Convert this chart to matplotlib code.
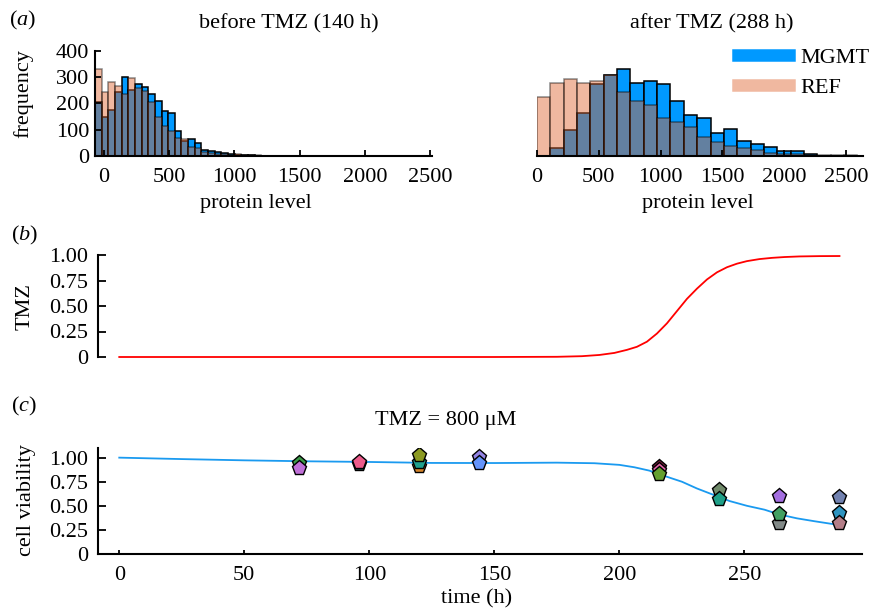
import numpy as np
import matplotlib
matplotlib.use('Agg')
import matplotlib.pyplot as plt
from matplotlib.lines import Line2D

plt.rcParams['font.family'] = ['Liberation Serif', 'DejaVu Serif']
plt.rcParams['mathtext.fontset'] = 'custom'
plt.rcParams['mathtext.rm'] = 'Liberation Serif'
plt.rcParams['mathtext.it'] = 'Liberation Serif:italic'
plt.rcParams['font.size'] = 16

# (a) histograms of protein level, bar heights per bin
before_mgmt = [207, 147, 175, 243, 300, 251, 274, 264, 236, 211, 173, 163, 95,
               57, 65, 48, 23, 18, 15, 10, 8, 5, 4, 2, 1]
before_ref = [330, 245, 281, 267, 236, 296, 260, 248, 204, 150, 116, 97, 70,
              65, 36, 29, 15, 11, 9, 6, 5, 6, 3, 3, 2]
after_mgmt = [0, 32, 98, 165, 273, 307, 330, 279, 284, 276, 210, 155, 145, 89,
              103, 56, 47, 34, 18, 19, 9, 1, 1, 0]
after_ref = [225, 278, 295, 278, 286, 307, 244, 210, 193, 146, 130, 110, 72,
             53, 38, 30, 22, 11, 9, 9, 4, 4, 3, 2]
hist_ticks = [0, 500, 1000, 1500, 2000, 2500]
freq_ticks = [0, 100, 200, 300, 400]

# (b) TMZ input over time
tmz_t = [0, 150, 175, 185, 192, 198, 203, 207, 211, 215, 219, 223, 227, 231,
         235, 239, 243, 247, 251, 256, 261, 266, 272, 280, 288]
tmz_v = [0, 0, 0.002, 0.008, 0.02, 0.04, 0.07, 0.10, 0.15, 0.23, 0.33, 0.45,
         0.57, 0.67, 0.76, 0.83, 0.88, 0.915, 0.94, 0.96, 0.972, 0.98, 0.986,
         0.989, 0.99]

# (c) cell viability, model and measurements
via_t = [0, 25, 50, 75, 100, 125, 150, 175, 190, 200, 206, 212, 218, 225, 231,
         238, 244, 251, 258, 264, 271, 278, 288]
via_v = [1.0, 0.985, 0.972, 0.962, 0.955, 0.945, 0.944, 0.948, 0.942, 0.925,
         0.90, 0.865, 0.81, 0.75, 0.68, 0.61, 0.55, 0.50, 0.46, 0.41, 0.37,
         0.34, 0.30]
obs_t = [72, 72, 96, 96, 120, 120, 120, 144, 144, 216, 216, 216, 240, 240,
         264, 264, 264, 288, 288, 288]
obs_v = [0.945, 0.893, 0.93, 0.955, 0.917, 0.955, 1.03, 1.01, 0.945, 0.90,
         0.875, 0.83, 0.66, 0.573, 0.607, 0.326, 0.417, 0.59, 0.43, 0.32]
obs_c = ['#3c9a48', '#c070d8', '#1f4f4f', '#ec5c8c', '#d4842a', '#1fa08e',
         '#8c9a22', '#9484e4', '#6494fa', '#7a1e3c', '#e464a8', '#64a030',
         '#708a6a', '#1fa088', '#a46ee0', '#828a88', '#42a062', '#7282b0',
         '#2e94c0', '#b47e88']
via_ticks = [0, 0.25, 0.5, 0.75, 1.0]
via_labels = ['0', '0.25', '0.50', '0.75', '1.00']
time_ticks = [0, 50, 100, 150, 200, 250]

W, H = 871, 611
blue = '#0099ff'
ref_col = '#de622c'


def px_axes(fig, x0, y0, x1, y1):
  """Add axes from pixel box (top-left origin)."""
  return fig.add_axes([x0 / W, 1 - y1 / H, (x1 - x0) / W, (y1 - y0) / H])


def px_text(fig, x, y, s, **kw):
  """Place centred text at a pixel position (top-left origin)."""
  fig.text(x / W, 1 - y / H, s, ha='center', va='center', **kw)


def style(ax, left=True, bottom=True):
  for s in ['top', 'right']:
    ax.spines[s].set_visible(False)
  ax.spines['left'].set_visible(left)
  ax.spines['bottom'].set_visible(bottom)
  for s in ['left', 'bottom']:
    ax.spines[s].set_linewidth(1.5)
  ax.tick_params(direction='in', width=1.3, length=4)


def hist_panel(ax, start, width, mgmt, ref):
  edges = start + width * np.arange(len(mgmt))
  ax.bar(edges, mgmt, width=width, align='edge', color=blue,
         edgecolor='black', linewidth=1.1)
  edges = start + width * np.arange(len(ref))
  ax.bar(edges, ref, width=width, align='edge', color=ref_col,
         edgecolor='black', linewidth=1.1, alpha=0.45)
  ax.set_ylim(0, 400)
  ax.set_xticks(hist_ticks)
  ax.set_xticklabels([str(t) for t in hist_ticks])
  ax.tick_params(axis='x', pad=9)


fig = plt.figure(figsize=(W / 100, H / 100), dpi=100)

ax1 = px_axes(fig, 95, 51, 432, 156)
style(ax1)
hist_panel(ax1, -69, 51, before_mgmt, before_ref)
ax1.set_xlim(-69, 2515)
ax1.set_yticks(freq_ticks)
ax1.tick_params(axis='y', pad=4)
px_text(fig, 289, 24, 'before TMZ (140 h)')
px_text(fig, 256, 204, 'protein level')
px_text(fig, 23, 94, 'frequency', rotation=90)

ax2 = px_axes(fig, 537, 51, 863, 156)
style(ax2, left=False)
hist_panel(ax2, 0, 108, after_mgmt, after_ref)
ax2.set_xlim(0, 2638)
ax2.set_yticks([])
px_text(fig, 712, 24, 'after TMZ (288 h)')
px_text(fig, 698, 204, 'protein level')
handles = [Line2D([], [], color=blue, lw=9),
           Line2D([], [], color=ref_col, alpha=0.45, lw=9)]
fig.legend(handles, ['MGMT', 'REF'], loc='upper right', frameon=False,
           handlelength=2.3, borderaxespad=0, borderpad=0,
           bbox_to_anchor=(869 / W, 1 - 47 / H),
           labelspacing=0.45, handletextpad=0.5)

ax3 = px_axes(fig, 98, 255, 862, 357)
style(ax3, bottom=False)
ax3.plot(tmz_t, tmz_v, color='red', lw=1.3, clip_on=False)
ax3.set_xlim(-8.5, 297)
ax3.set_ylim(0, 1)
ax3.set_xticks([])
ax3.set_yticks(via_ticks)
ax3.set_yticklabels(via_labels)
ax3.tick_params(axis='y', pad=7, length=6)
px_text(fig, 25, 307, 'TMZ', rotation=90)

ax4 = px_axes(fig, 98, 448, 862, 554)
style(ax4)
ax4.plot(via_t, via_v, color='#1a9af0', lw=1.3)
for t, v, c in zip(obs_t, obs_v, obs_c):
  ax4.plot(t, v, marker='p', ms=11, color=c, markeredgecolor='black',
           markeredgewidth=1.0, zorder=3)
ax4.set_xlim(-8.5, 297)
ax4.set_ylim(0, 1.1)
ax4.set_xticks(time_ticks)
ax4.set_yticks(via_ticks)
ax4.set_yticklabels(via_labels)
ax4.tick_params(axis='y', pad=7, length=6)
ax4.tick_params(axis='x', pad=9, length=3)
px_text(fig, 477, 599, 'time (h)')
px_text(fig, 26, 500, 'cell viability', rotation=90)
px_text(fig, 446, 421, 'TMZ = 800 μM')

px_text(fig, 23, 20, r'($a$)')
px_text(fig, 25, 235, r'($b$)')
px_text(fig, 24, 406, r'($c$)')

fig.savefig('out.png', dpi=100)
